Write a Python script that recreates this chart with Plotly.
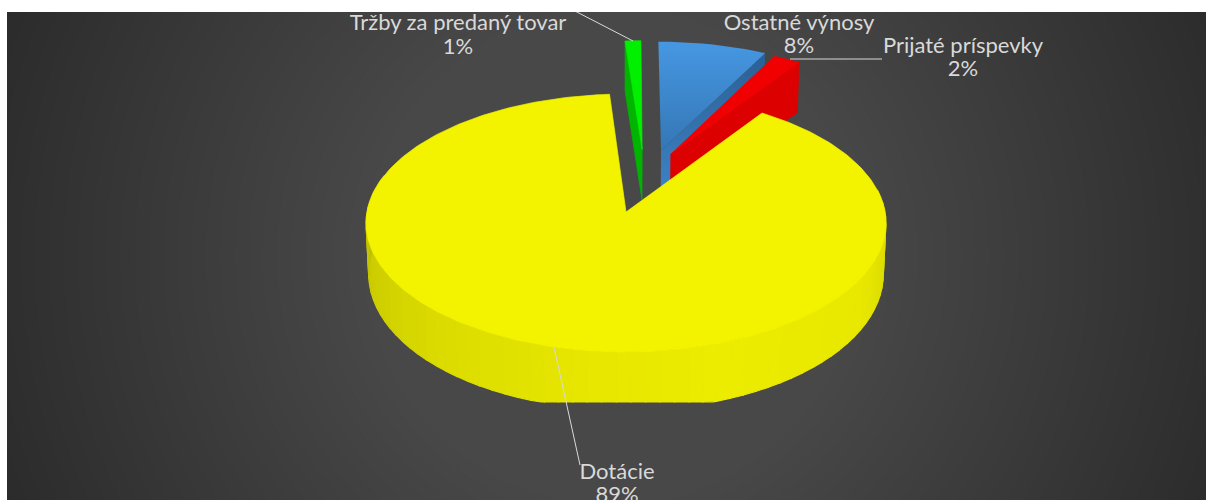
import math
import plotly.graph_objects as go

categories = ["Ostatné výnosy", "Prijaté príspevky", "Dotácie", "Tržby za predaný tovar"]
values = [7.6, 1.9, 89.4, 1.1]
percent_labels = ["8%", "2%", "89%", "1%"]

# styling / projection constants
top_colors = ["#3F8FD8", "#F00000", "#F3F300", "#00F000"]
wall_colors = ["#2F6DA3", "#DC0000", "#E4E400", "#00B400"]
explode_uv = [(0.141, 0.50), (0.18, 0.47), (0.0, 0.0), (0.065, 0.51)]
CX, CY, R, S, K = 626, 212, 259, 128, 0.0852
CLIP_Y = 402
name_xy = [(799, 24), (963, 47), (617, 473), (458, 24)]
pct_xy = [(799, 47), (963, 70), (617, 496), (458, 48)]
leader_x = [[790, 882], [554, 580], [573, 633]]
leader_y = [[59, 59], [347, 465], [10, 41]]


def project(u, v, low=False):
    d = 1 + K * v
    x = CX + R * u / d
    y = CY - S * v / d
    if low:
        x = CX + (x - CX) * 0.99
        y = min(y + 50 - 8 * min(v, 0), CLIP_Y)
    return x, y


def rim(a0, a1, off, low=False, n=120):
    pts = []
    steps = max(2, int(n * abs(a1 - a0) / 360) + 2)
    for i in range(steps):
        a = math.radians(a0 + (a1 - a0) * i / (steps - 1))
        pts.append(project(off[0] + math.sin(a), off[1] + math.cos(a), low))
    return pts


def poly(fig, pts, color=None, gradient=None, stroke=0.7):
    xs = [p[0] for p in pts] + [pts[0][0]]
    ys = [p[1] for p in pts] + [pts[0][1]]
    kw = dict(x=xs, y=ys, mode="lines", fill="toself", hoverinfo="skip", showlegend=False)
    if gradient:
        kw["line"] = dict(width=0, color="rgba(0,0,0,0)")
        kw["fillgradient"] = dict(type="vertical", colorscale=gradient)
    else:
        kw["line"] = dict(width=stroke, color=color)
        kw["fillcolor"] = color
    fig.add_trace(go.Scatter(**kw))


angles = [0]
for val in values:
    angles.append(angles[-1] + val / sum(values) * 360)

fig = go.Figure()

# background bands of the radial gradient
shapes = []
bands = 34
for i in range(bands):
    t = i / (bands - 1)
    r = 720 - 470 * t
    g = round(0x27 + (0x48 - 0x27) * t)
    col = f"rgb({g},{g},{g})"
    shapes.append(dict(type="circle", xref="x", yref="y", x0=612 - r, x1=612 + r,
                       y0=256 - r, y1=256 + r, fillcolor=col, line_width=0, layer="below"))

# Tržby (green)
i = 3
off = explode_uv[i]
apex, apex_low = project(*off), project(*off, low=True)
a0, a1 = angles[i], angles[i + 1]
left, left_low = rim(a0, a0, off)[0], rim(a0, a0, off, True)[0]
poly(fig, [apex, left, left_low, apex_low], wall_colors[i])
poly(fig, [apex] + rim(a0, a1, off), top_colors[i])

# Ostatné výnosy (blue)
i = 0
off = explode_uv[i]
apex, apex_low = project(*off), project(*off, low=True)
a0, a1 = angles[i], angles[i + 1]
right, right_low = rim(a1, a1, off)[0], rim(a1, a1, off, True)[0]
poly(fig, [apex, right, right_low, apex_low],
     gradient=[[0, "#3E84C8"], [1, "#2A6094"]])
poly(fig, [apex] + rim(a0, a1, off), gradient=[[0, "#3477B5"], [1, "#4697E2"]])

# Prijaté príspevky (red)
i = 1
off = explode_uv[i]
apex, apex_low = project(*off), project(*off, low=True)
a0, a1 = angles[i], angles[i + 1]
right, right_low = rim(a1, a1, off)[0], rim(a1, a1, off, True)[0]
poly(fig, [apex, right, right_low, apex_low], wall_colors[i])
poly(fig, [apex] + rim(a0, a1, off), top_colors[i])

# Dotácie (yellow): faceted wall, then the top face
i = 2
off = explode_uv[i]
a0, a1 = angles[i], angles[i + 1]
stops = [(85, 0xC4), (100, 0xDC), (120, 0xE8), (160, 0xEC), (190, 0xE6), (225, 0xDA), (255, 0xCC), (280, 0xBC)]


def shade(a):
    for (a_l, c_l), (a_h, c_h) in zip(stops, stops[1:]):
        if a_l <= a <= a_h:
            return round(c_l + (c_h - c_l) * (a - a_l) / (a_h - a_l))
    return stops[0][1] if a < stops[0][0] else stops[-1][1]


facet = 3
a = 80
while a < 285:
    ring_top = rim(a, a + facet, off, n=360)
    ring_low = rim(a + facet, a, off, True, n=360)
    g = shade(a + facet / 2)
    poly(fig, ring_top + ring_low, f"rgb({g},{g},0)", stroke=1.2)
    a += facet
poly(fig, [project(*off)] + rim(a0, a1, off, n=360), top_colors[i])

# leader lines
for lx, ly in zip(leader_x, leader_y):
    fig.add_trace(go.Scatter(x=lx, y=ly, mode="lines", hoverinfo="skip", showlegend=False,
                             cliponaxis=False, line=dict(color="#D9D9D9", width=1)))

# labels
font = dict(family="Lato", size=22, color="#D9D9D9")
fig.add_trace(go.Scatter(x=[p[0] for p in name_xy], y=[p[1] for p in name_xy], text=categories,
                         mode="text", textfont=font, cliponaxis=False, hoverinfo="skip", showlegend=False))
fig.add_trace(go.Scatter(x=[p[0] for p in pct_xy], y=[p[1] for p in pct_xy], text=percent_labels,
                         mode="text", textfont=font, cliponaxis=False, hoverinfo="skip", showlegend=False))

fig.update_layout(
    width=1206, height=500, margin=dict(l=7, r=0, t=12, b=0),
    paper_bgcolor="white", plot_bgcolor="#272727", shapes=shapes, showlegend=False,
    xaxis=dict(range=[7, 1206], visible=False, fixedrange=True),
    yaxis=dict(range=[500, 12], visible=False, fixedrange=True),
)
fig.write_html("out.html", config={"displayModeBar": False},
               post_script="document.body.style.margin='0';document.documentElement.style.overflow='hidden';")
